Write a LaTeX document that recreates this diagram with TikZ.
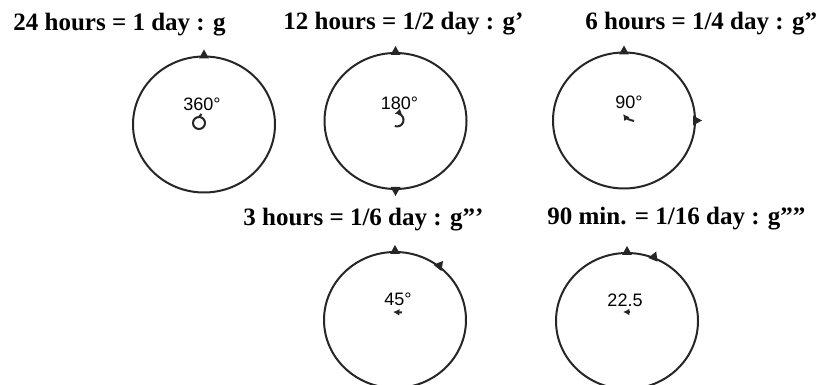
\documentclass[tikz,border=0pt]{standalone}
\usepackage{fontspec}
\setmainfont{Liberation Serif}
\newfontfamily\labelfont{Liberation Sans}
\usetikzlibrary{arrows.meta,calc}

\begin{document}
\begin{tikzpicture}[
    x=0.5pt, y=0.5pt,
    heading/.style={anchor=base west, inner sep=0pt, font=\fontsize{12.5}{14}\selectfont\bfseries},
    deg/.style={inner sep=0pt, font=\labelfont\fontsize{9}{10}\selectfont},
    dial/.style={line width=1pt, draw=black!85},
    notch/.style={fill=black!85},
    turn/.style={line width=1pt, draw=black!85, -{Latex[length=3.2pt,width=3.4pt]}}
  ]
  \useasboundingbox (0,0) rectangle (824,385);
  % dial centres
  \coordinate (c1) at (204,260.5);
  \coordinate (c2) at (395.5,264);
  \coordinate (c3) at (624,264.5);
  \coordinate (c4) at (395,65);
  \coordinate (c5) at (627,64);
  \foreach \c in {c1,c2,c3,c4,c5} {\draw[dial] (\c) ellipse [x radius=71, y radius=68];}
  % notches on the rim
  \foreach \c/\a in {c1/90,c2/90,c2/270,c3/90,c3/0,c4/90,c4/52,c5/90,c5/68} {
    \coordinate (p) at ($(\c)+(\a:71 and 68)$);
    \fill[notch, shift={(p)}, rotate=\a-90] (-5,-2) -- (5,-2) -- (0,7) -- cycle;
  }
  \node[heading] (t1) at (13,354) {24 hours = 1 day : g};
  \node[heading] (t2) at (283,355) {12 hours = 1/2 day : g’};
  \node[heading] (t3) at (585,355) {6 hours = 1/4 day : g”};
  \node[heading] (t4) at (243,159) {3 hours = 1/6 day : g”’};
  \node[heading] (t5) at (547,160) {90 min. = 1/16 day : g””};
  \node[deg] (l1) at (202,281) {360°};
  \node[deg] (l2) at (399.5,281.5) {180°};
  \node[deg] (l3) at (629,282.5) {90°};
  \node[deg] (l4) at (398,86) {45°};
  \node[deg] (l5) at (625,85) {22.5};
  % turning marks
  \draw[dial] (199,262) circle [radius=6];
  \draw[dial] (199,268) -- (201.5,271);
  \draw[turn] (394.8,258.9) arc [start angle=-110, end angle=110, radius=6.5];
  \draw[turn] (634,264) to[bend left=20] (623,271);
  \draw[turn] (402,72.5) -- (393,73);
  \draw[turn] (629,73) -- (623,73);
\end{tikzpicture}
\end{document}
